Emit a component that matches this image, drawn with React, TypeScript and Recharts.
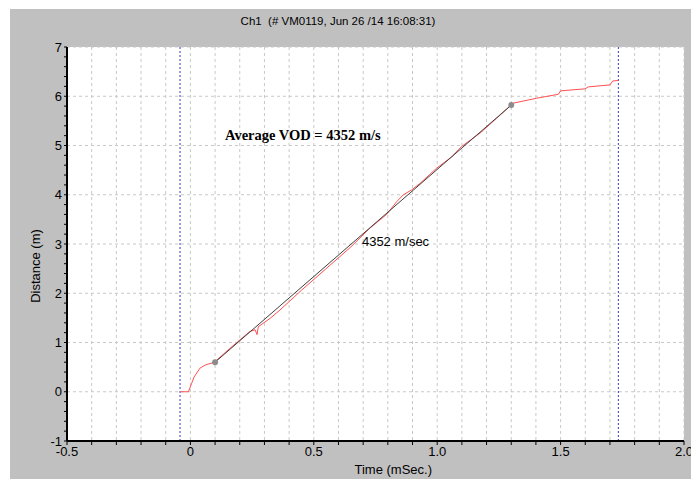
import React from 'react';
import {
    LineChart,
    Line,
    XAxis,
    YAxis,
    CartesianGrid,
    ReferenceLine,
    ReferenceDot
} from 'recharts';

// measured trace: time (ms) vs probe distance (m)
const traceTime = [
    -0.04, -0.008, 0.005, 0.015, 0.039, 0.059, 0.097, 0.16, 0.24, 0.262, 0.27, 0.275,
    0.323, 0.363, 0.45, 0.55, 0.65, 0.727, 0.768, 0.795, 0.836, 0.863, 0.897, 0.93,
    0.998, 1.059, 1.085, 1.099, 1.173, 1.187, 1.24, 1.299, 1.308, 1.403, 1.491, 1.5,
    1.599, 1.612, 1.7, 1.711, 1.734,
];
const traceDistance = [
    0, 0, 0.17, 0.3, 0.48, 0.54, 0.6, 0.88, 1.22, 1.26, 1.16, 1.32,
    1.49, 1.66, 2.06, 2.5, 2.94, 3.32, 3.49, 3.6, 3.86, 4.0, 4.1, 4.23,
    4.54, 4.77, 4.91, 4.98, 5.25, 5.31, 5.55, 5.82, 5.86, 5.96, 6.04, 6.11,
    6.15, 6.19, 6.23, 6.31, 6.32,
];

// least-squares fit between the two selected points
const fitTime = [0.1, 1.3];
const fitDistance = [0.6, 5.82];
const vodLabel = '4352 m/sec';
const vodTitle = 'Average VOD = 4352 m/s';

// cursor markers
const cursorTimes = [-0.042, 1.734];

const xMajorTicks = [-0.5, 0, 0.5, 1.0, 1.5, 2.0];
const xMajorLabels = ['-0.5', '0', '0.5', '1.0', '1.5', '2.0'];
const yMajorTicks = [-1, 0, 1, 2, 3, 4, 5, 6, 7];
const yMajorLabels = ['-1', '0', '1', '2', '3', '4', '5', '6', '7'];

const xTicks = Array.from({ length: 26 }, (_, i) => +(-0.5 + i * 0.1).toFixed(1));
const yTicks = Array.from({ length: 41 }, (_, i) => +(-1 + i * 0.2).toFixed(1));

const traceData = traceTime.map((t, i) => ({ t, d: traceDistance[i] }));
const fitData = fitTime.map((t, i) => ({ t, d: fitDistance[i] }));

const labelFor = (ticks: number[], labels: string[]) => (v: number) => {
    const idx = ticks.findIndex((m) => Math.abs(m - v) < 1e-6);
    return idx >= 0 ? labels[idx] : '';
};

const FONT = '"Liberation Sans", Arial, sans-serif';
const tickStyle = { fill: '#000', fontSize: 13, fontFamily: FONT };

const VodText = (props: any) => (
    <text x={props.cx} y={props.cy} dy={5} fontSize={13} fontFamily={FONT} fill="#000">
        {vodLabel}
    </text>
);

export default function App() {
    return (
        <div style={{ position: 'absolute', left: 0, top: 0, width: 691, height: 479, background: '#fff' }}>
            <div style={{ position: 'absolute', left: 10, top: 9, width: 681, height: 470, background: '#c0c0c0' }}>
                <div
                    style={{
                        position: 'absolute', left: 0, top: 6, width: 656, textAlign: 'center',
                        fontFamily: FONT, fontSize: 11.5, color: '#000', whiteSpace: 'pre'
                    }}
                >
                    {'Ch1  (# VM0119, Jun 26 /14 16:08:31)'}
                </div>
                <LineChart
                    width={681}
                    height={470}
                    margin={{ top: 38, right: 7, bottom: 10, left: 0 }}
                >
                    <CartesianGrid
                        fill="#fff"
                        stroke="#c8c8c8"
                        strokeDasharray="3 3"
                        verticalValues={xTicks}
                        horizontalValues={yMajorTicks}
                    />
                    <XAxis
                        type="number"
                        dataKey="t"
                        domain={[-0.5, 2]}
                        ticks={xTicks}
                        interval={0}
                        allowDataOverflow
                        height={28}
                        axisLine={{ stroke: '#000', strokeWidth: 2 }}
                        tickLine={{ stroke: '#000' }}
                        tickSize={4}
                        tickMargin={2}
                        tick={tickStyle}
                        tickFormatter={labelFor(xMajorTicks, xMajorLabels)}
                    />
                    <YAxis
                        type="number"
                        domain={[-1, 7]}
                        ticks={yTicks}
                        interval={0}
                        allowDataOverflow
                        width={57}
                        axisLine={{ stroke: '#000', strokeWidth: 2 }}
                        tickLine={{ stroke: '#000' }}
                        tickSize={3}
                        tickMargin={2}
                        tick={tickStyle}
                        tickFormatter={labelFor(yMajorTicks, yMajorLabels)}
                    />
                    {cursorTimes.map((t) => (
                        <ReferenceLine key={t} x={t} stroke="#3a3ab8" strokeDasharray="2 2" />
                    ))}
                    <Line
                        data={traceData}
                        dataKey="d"
                        type="linear"
                        stroke="#ff5050"
                        strokeWidth={1}
                        dot={false}
                        isAnimationActive={false}
                    />
                    <Line
                        data={fitData}
                        dataKey="d"
                        type="linear"
                        stroke="#404040"
                        strokeWidth={1}
                        dot={{ r: 3, fill: '#8c8c8c', stroke: 'none' }}
                        isAnimationActive={false}
                    />
                    <ReferenceDot x={0.695} y={3.06} r={0} shape={VodText} />
                </LineChart>
                <div
                    style={{
                        position: 'absolute', left: 215, top: 118, fontFamily: '"Liberation Serif", "Times New Roman", serif',
                        fontWeight: 'bold', fontSize: 14.5, color: '#000', whiteSpace: 'pre'
                    }}
                >
                    {vodTitle}
                </div>
                <div
                    style={{
                        position: 'absolute', left: 25, top: 257, width: 0, height: 0
                    }}
                >
                    <div
                        style={{
                            position: 'absolute', left: 0, top: 0, transform: 'translate(-50%, -50%) rotate(-90deg)',
                            fontFamily: FONT, fontSize: 13, color: '#000', whiteSpace: 'pre'
                        }}
                    >
                        Distance (m)
                    </div>
                </div>
                <div
                    style={{
                        position: 'absolute', left: 322, top: 453, width: 100, textAlign: 'right',
                        fontFamily: FONT, fontSize: 13, color: '#000', whiteSpace: 'pre'
                    }}
                >
                    Time (mSec.)
                </div>
            </div>
        </div>
    );
}
